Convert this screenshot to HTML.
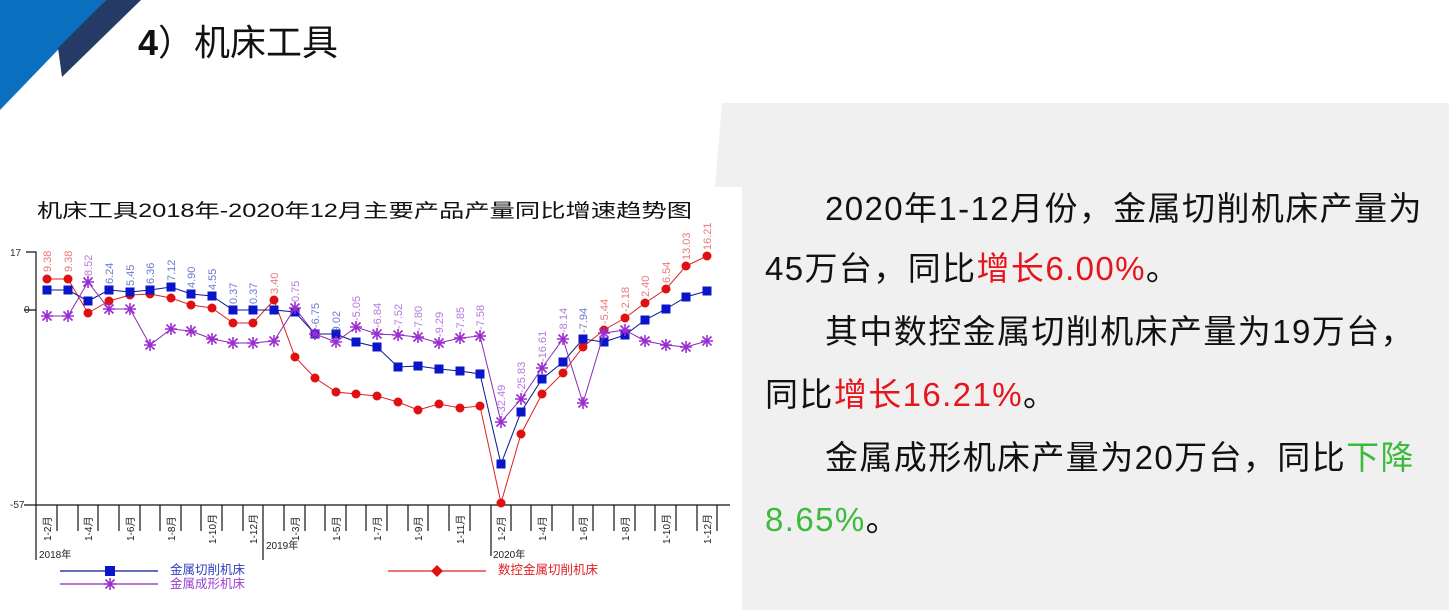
<!DOCTYPE html>
<html><head><meta charset="utf-8">
<style>
body{margin:0;width:1449px;height:610px;overflow:hidden;background:#fff;position:relative;font-family:"Liberation Sans","Noto Sans CJK SC",sans-serif;}
.t{position:absolute;white-space:nowrap;font-size:33px;color:#111;letter-spacing:1.4px;line-height:1;}
.r{color:#e8141c}.g{color:#3cba3c}
</style></head><body>
<svg width="1449" height="610" style="position:absolute;left:0;top:0">
<polygon points="0,0 106,0 0,110" fill="#0b6fc0"/>
<polygon points="106,0 141,0 62,77 58,48" fill="#263a66"/>
<polygon points="722,103 1449,103 1449,610 742,610 742,187 715,187" fill="#f0f0f0"/>
<defs>
<marker id="sq" viewBox="0 0 10 10" refX="5" refY="5" markerWidth="9" markerHeight="9" markerUnits="userSpaceOnUse"><rect width="10" height="10" fill="#0a14c8"/></marker>
<marker id="ci" viewBox="0 0 10 10" refX="5" refY="5" markerWidth="9" markerHeight="9" markerUnits="userSpaceOnUse"><circle cx="5" cy="5" r="5" fill="#e01010"/></marker>
<marker id="st" viewBox="0 0 12 12" refX="6" refY="6" markerWidth="12" markerHeight="12" markerUnits="userSpaceOnUse"><path d="M6 0V12M0 6H12M1.5 1.5L10.5 10.5M10.5 1.5L1.5 10.5" stroke="#9a2ed0" stroke-width="1.6"/></marker>
</defs>
<text x="37" y="217" font-size="19" fill="#111" textLength="655" lengthAdjust="spacingAndGlyphs" font-family="Liberation Sans,Noto Sans CJK SC,sans-serif">机床工具2018年-2020年12月主要产品产量同比增速趋势图</text>
<g font-family="Liberation Sans,sans-serif" font-size="10" fill="#333">
<text x="10" y="256">17</text><text x="24" y="313">0</text><text x="10" y="508">-57</text>
</g>
<g stroke="#111" stroke-width="1.2" fill="none">
<path d="M26 252H36V505H730M24 310H36M24 505H36"/>
<path d="M36 505V560M263 505V560M491 505V556"/>
<path d="M57 505v26M78 505v26M98 505v26M119 505v26M140 505v26M160 505v26M181 505v26M201 505v26M222 505v26M243 505v26M284 505v26M305 505v26M325 505v26M346 505v26M366 505v26M387 505v26M408 505v26M428 505v26M449 505v26M470 505v26M511 505v26M531 505v26M552 505v26M573 505v26M593 505v26M614 505v26M635 505v26M655 505v26M676 505v26M697 505v26M717 505v26"/>
</g>
<g font-family="Liberation Sans,Noto Sans CJK SC,sans-serif" font-size="10" fill="#222">
<text transform="translate(51,541) rotate(-90)">1-2月</text>
<text transform="translate(92,541) rotate(-90)">1-4月</text>
<text transform="translate(134,541) rotate(-90)">1-6月</text>
<text transform="translate(175,541) rotate(-90)">1-8月</text>
<text transform="translate(216,544) rotate(-90)">1-10月</text>
<text transform="translate(257,544) rotate(-90)">1-12月</text>
<text transform="translate(299,541) rotate(-90)">1-3月</text>
<text transform="translate(340,541) rotate(-90)">1-5月</text>
<text transform="translate(381,541) rotate(-90)">1-7月</text>
<text transform="translate(422,541) rotate(-90)">1-9月</text>
<text transform="translate(464,544) rotate(-90)">1-11月</text>
<text transform="translate(505,541) rotate(-90)">1-2月</text>
<text transform="translate(546,541) rotate(-90)">1-4月</text>
<text transform="translate(587,541) rotate(-90)">1-6月</text>
<text transform="translate(629,541) rotate(-90)">1-8月</text>
<text transform="translate(670,544) rotate(-90)">1-10月</text>
<text transform="translate(711,544) rotate(-90)">1-12月</text>
<text x="39" y="558">2018年</text><text x="266" y="549">2019年</text><text x="493" y="558">2020年</text>
</g>
<polyline fill="none" stroke="#e02020" stroke-width="1" marker-start="url(#ci)" marker-mid="url(#ci)" marker-end="url(#ci)" points="47,279 68,279 88,313 109,301 130,295 150,294 171,298 191,305 212,308 233,323 253,323 274,300 295,357 315,378 336,392 356,394 377,396 398,402 418,410 439,404 460,408 480,406 501,503 521,434 542,394 563,373 583,347 604,330 625,318 645,303 666,289 686,266 707,256"/>
<polyline fill="none" stroke="#0a1890" stroke-width="1" marker-start="url(#sq)" marker-mid="url(#sq)" marker-end="url(#sq)" points="47,290 68,290 88,301 109,290 130,292 150,290 171,287 191,294 212,296 233,310 253,310 274,310 295,312 315,334 336,334 356,342 377,347 398,367 418,366 439,369 460,371 480,374 501,464 521,412 542,379 563,362 583,339 604,342 625,335 645,320 666,309 686,297 707,291"/>
<polyline fill="none" stroke="#8a2ab8" stroke-width="1" marker-start="url(#st)" marker-mid="url(#st)" marker-end="url(#st)" points="47,316 68,316 88,282 109,309 130,309 150,345 171,329 191,331 212,339 233,343 253,343 274,341 295,308 315,334 336,342 356,327 377,334 398,335 418,337 439,343 460,338 480,336 501,422 521,399 542,368 563,339 583,403 604,333 625,330 645,341 666,345 686,347 707,341"/>
<g font-family="Liberation Sans,sans-serif" font-size="11" opacity="0.7">
<text transform="translate(51,272) rotate(-90)" fill="#e04040">9.38</text>
<text transform="translate(72,272) rotate(-90)" fill="#e04040">9.38</text>
<text transform="translate(92,276) rotate(-90)" fill="#9a40d0">8.52</text>
<text transform="translate(113,284) rotate(-90)" fill="#3040c0">6.24</text>
<text transform="translate(134,286) rotate(-90)" fill="#3040c0">5.45</text>
<text transform="translate(154,284) rotate(-90)" fill="#3040c0">6.36</text>
<text transform="translate(175,281) rotate(-90)" fill="#3040c0">7.12</text>
<text transform="translate(195,288) rotate(-90)" fill="#3040c0">4.90</text>
<text transform="translate(216,290) rotate(-90)" fill="#3040c0">4.55</text>
<text transform="translate(237,304) rotate(-90)" fill="#3040c0">0.37</text>
<text transform="translate(257,304) rotate(-90)" fill="#3040c0">0.37</text>
<text transform="translate(278,294) rotate(-90)" fill="#e04040">3.40</text>
<text transform="translate(299,302) rotate(-90)" fill="#9a40d0">0.75</text>
<text transform="translate(319,328) rotate(-90)" fill="#3040c0">-6.75</text>
<text transform="translate(340,336) rotate(-90)" fill="#3040c0">-9.02</text>
<text transform="translate(360,321) rotate(-90)" fill="#9a40d0">-5.05</text>
<text transform="translate(381,328) rotate(-90)" fill="#9a40d0">-6.84</text>
<text transform="translate(402,329) rotate(-90)" fill="#9a40d0">-7.52</text>
<text transform="translate(422,331) rotate(-90)" fill="#9a40d0">-7.80</text>
<text transform="translate(443,337) rotate(-90)" fill="#9a40d0">-9.29</text>
<text transform="translate(464,332) rotate(-90)" fill="#9a40d0">-7.85</text>
<text transform="translate(484,330) rotate(-90)" fill="#9a40d0">-7.58</text>
<text transform="translate(505,416) rotate(-90)" fill="#9a40d0">-32.49</text>
<text transform="translate(525,393) rotate(-90)" fill="#9a40d0">-25.83</text>
<text transform="translate(546,362) rotate(-90)" fill="#9a40d0">-16.61</text>
<text transform="translate(567,333) rotate(-90)" fill="#9a40d0">-8.14</text>
<text transform="translate(587,333) rotate(-90)" fill="#3040c0">-7.94</text>
<text transform="translate(608,324) rotate(-90)" fill="#e04040">-5.44</text>
<text transform="translate(629,312) rotate(-90)" fill="#e04040">-2.18</text>
<text transform="translate(649,297) rotate(-90)" fill="#e04040">2.40</text>
<text transform="translate(670,283) rotate(-90)" fill="#e04040">6.54</text>
<text transform="translate(690,260) rotate(-90)" fill="#e04040">13.03</text>
<text transform="translate(711,250) rotate(-90)" fill="#e04040">16.21</text>
</g>
<line x1="60" y1="571" x2="158" y2="571" stroke="#0a1890" stroke-width="1.2"/>
<rect x="105" y="566" width="10" height="10" fill="#0a14c8"/>
<line x1="60" y1="584" x2="158" y2="584" stroke="#8a2ab8" stroke-width="1.2"/>
<path d="M110 578V590M104 584H116M105.5 579.5L114.5 588.5M114.5 579.5L105.5 588.5" stroke="#9a2ed0" stroke-width="1.6"/>
<line x1="388" y1="571" x2="486" y2="571" stroke="#e02020" stroke-width="1.2"/>
<polygon points="437,565 443,571 437,577 431,571" fill="#e01010"/>
<g font-family="Liberation Sans,Noto Sans CJK SC,sans-serif" font-size="12.5">
<text x="170" y="574" fill="#3040c0">金属切削机床</text>
<text x="170" y="588" fill="#9a40d0">金属成形机床</text>
<text x="498" y="574" fill="#e02020">数控金属切削机床</text>
</g>
</svg>
<div class="t" style="left:138px;top:25px;font-size:36px;letter-spacing:0"><b>4</b>）机床工具</div>
<div class="t" style="left:825px;top:192px;">2020年1-12月份，金属切削机床产量为</div>
<div class="t" style="left:765px;top:252px;">45万台，同比<span class="r">增长6.00%</span>。</div>
<div class="t" style="left:825px;top:315px;">其中数控金属切削机床产量为19万台，</div>
<div class="t" style="left:765px;top:378px;">同比<span class="r">增长16.21%</span>。</div>
<div class="t" style="left:825px;top:441px;">金属成形机床产量为20万台，同比<span class="g">下降</span></div>
<div class="t g" style="left:765px;top:503px;">8.65%<span style="color:#111">。</span></div>
</body></html>
